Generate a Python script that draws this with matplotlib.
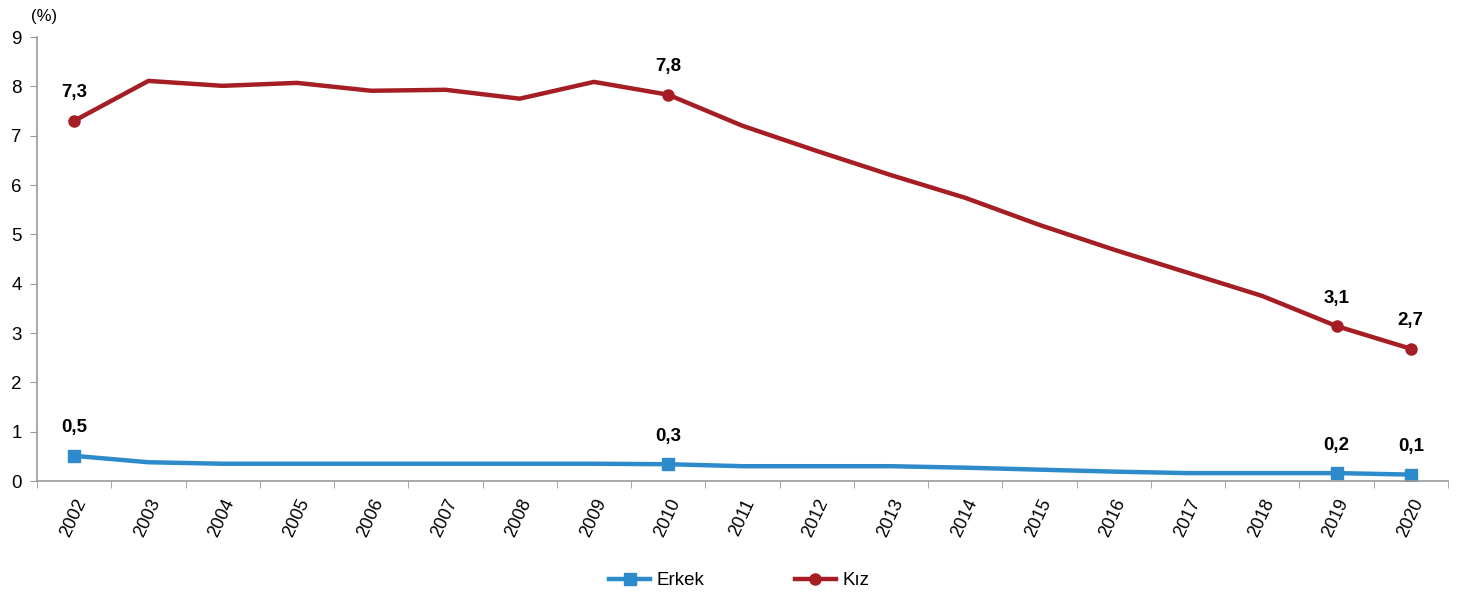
import matplotlib.pyplot as plt
import numpy as np

plt.rcParams['font.family'] = ['Liberation Sans', 'DejaVu Sans']

years = [str(y) for y in range(2002, 2021)]
erkek = [0.51, 0.38, 0.35, 0.35, 0.35, 0.35, 0.35, 0.35, 0.34, 0.30,
         0.30, 0.30, 0.27, 0.23, 0.19, 0.16, 0.16, 0.16, 0.13]
kiz = [7.30, 8.11, 8.01, 8.07, 7.91, 7.93, 7.75, 8.09, 7.83, 7.20,
       6.69, 6.20, 5.74, 5.19, 4.69, 4.22, 3.75, 3.14, 2.68]
# etiketli yıllar (indeks) ve gösterilen değerler
label_idx = [0, 8, 17, 18]
erkek_labels = ['0,5', '0,3', '0,2', '0,1']
kiz_labels = ['7,3', '7,8', '3,1', '2,7']

BLUE = '#2E8BCB'
RED = '#A51E23'

fig = plt.figure(figsize=(14.61, 5.97), dpi=100)
ax = fig.add_axes([37 / 1461, 1 - 481 / 597, (1448 - 37) / 1461, (481 - 37) / 597])

x = np.arange(len(years))
ax.plot(x, erkek, color=BLUE, linewidth=3.2, label='Erkek', marker='s',
        markersize=9, markevery=label_idx)
ax.plot(x, kiz, color=RED, linewidth=3.2, label='Kız', marker='o',
        markersize=8, markevery=label_idx)

for i, lab in zip(label_idx, erkek_labels):
    ax.annotate(lab, (x[i], erkek[i]), xytext=(0, 14), textcoords='offset points',
                ha='center', va='bottom', fontsize=13.5, fontweight='bold')
for i, lab in zip(label_idx, kiz_labels):
    ax.annotate(lab, (x[i], kiz[i]), xytext=(0, 14), textcoords='offset points',
                ha='center', va='bottom', fontsize=13.5, fontweight='bold')

ax.set_xlim(-0.5, len(years) - 0.5)
ax.set_ylim(0, 9)
ax.set_yticks(range(0, 10))
ax.tick_params(axis='y', labelsize=13.5, length=5, color='#999999', pad=6)

ax.set_xticks(x)
ax.set_xticklabels(years, rotation=65, ha='right', va='top', rotation_mode='anchor',
                   fontsize=13)
ax.set_xticks(np.arange(-0.5, len(years)), minor=True)
ax.tick_params(axis='x', which='major', length=0, pad=11)
ax.tick_params(axis='x', which='minor', length=5, color='#999999')

for s in ['top', 'right']:
    ax.spines[s].set_visible(False)
for s in ['left', 'bottom']:
    ax.spines[s].set_color('#999999')
    ax.spines[s].set_linewidth(1.2)

ax.text(-0.4, 9.42, '(%)', fontsize=12, ha='center', va='center')

fig.legend(loc='lower center', bbox_to_anchor=(0.506, -0.015), ncol=2, frameon=False,
           fontsize=13.5, columnspacing=4.8, handlelength=2.2, handletextpad=0.35)

fig.savefig('out.png', dpi=100)
